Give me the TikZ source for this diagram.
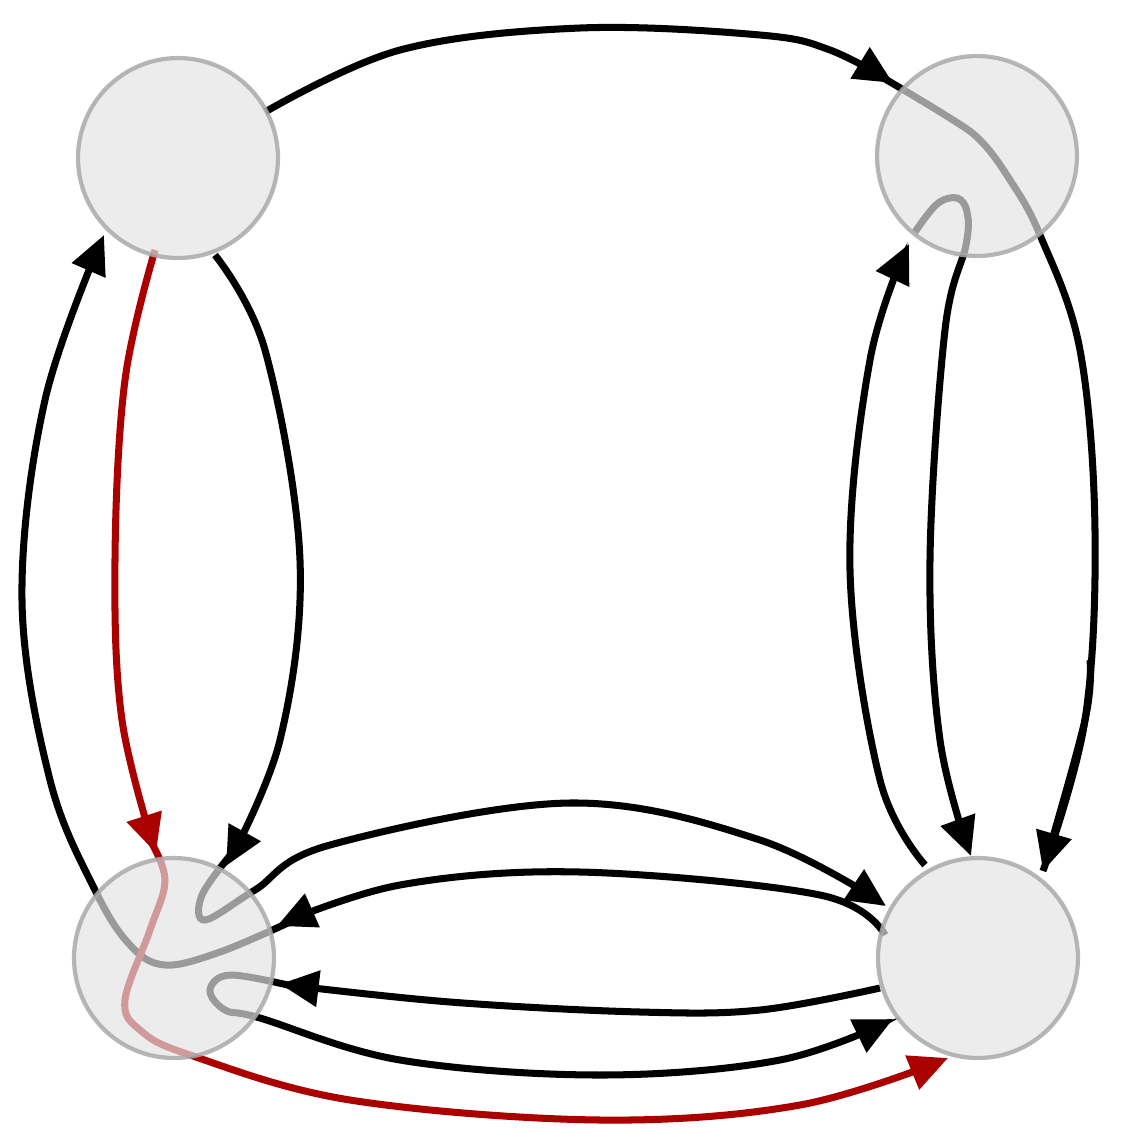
\documentclass[tikz,border=0pt]{standalone}
\usetikzlibrary{arrows.meta}
\definecolor{redE}{HTML}{AA0000}
\definecolor{nfill}{HTML}{E4E4E4}
\definecolor{nborder}{HTML}{AAAAAA}
\tikzset{
  edge/.style={line width=4pt, draw=black, -{Triangle[length=22pt,width=20pt]}},
  redge/.style={edge, draw=redE, -{Triangle[length=22pt,width=20pt,fill=redE]}, color=redE},
  cont/.style={line width=4pt, draw=black},
  rcont/.style={line width=4pt, draw=redE},
  vtx/.style={circle, minimum size=4cm, fill=nfill, fill opacity=0.68, draw=nborder, draw opacity=0.85, line width=2.4pt, inner sep=0pt}
}
\begin{document}
\begin{tikzpicture}[x=0.02cm,y=-0.02cm]
\useasboundingbox (0,0) rectangle (1134,1134);
\fill[white] (0,0) rectangle (1134,1134);
\coordinate (tl) at (178,158);
\coordinate (tr) at (977,156);
\coordinate (bl) at (174,958);
\coordinate (br) at (978,958);
% TL -> TR
\draw[edge] plot[smooth,tension=0.6] coordinates {(265,112) (400,50) (580,28) (760,35) (830,50) (893,83)};
\draw[cont] plot[smooth,tension=0.6] coordinates {(880,76) (945,115) (980,140) (1010,180) (1040,235) (1080,350) (1095,530) (1085,720) (1043,871)};
\draw[edge] plot[smooth,tension=0.6] coordinates {(1090,660) (1085,720) (1043,871)};
% BR -> TR
\draw[edge] plot[smooth,tension=0.6] coordinates {(925,865) (880,780) (850,570) (870,360) (909,244)};
\draw[edge] plot[smooth,tension=0.6] coordinates {(915,232) (937,204) (957,198) (967,212) (966,245) (945,330) (930,560) (940,740) (971,856)};
% TL -> BL
\draw[edge] plot[smooth,tension=0.6] coordinates {(215,255) (265,350) (300,560) (280,740) (226,866)};
\draw[edge] plot[smooth,tension=0.6] coordinates {(232,853) (202,895) (205,920) (255,890) (330,845) (570,803) (760,840) (886,906)};
% BR -> BL
\draw[edge] plot[smooth,tension=0.6] coordinates {(885,935) (820,895) (580,872) (400,885) (277,926)};
\draw[edge] plot[smooth,tension=0.6] coordinates {(290,922) (220,952) (165,965) (130,945) (95,890) (50,780) (22,600) (45,400) (104,235)};
% BR -> BL lower
\draw[edge] plot[smooth,tension=0.6] coordinates {(880,988) (760,1010) (640,1012) (450,1002) (280,984)};
\draw[edge] plot[smooth,tension=0.6] coordinates {(292,986) (230,975) (210,990) (225,1010) (260,1018) (400,1060) (600,1075) (780,1060) (893,1019)};
% red
\draw[redge] plot[smooth,tension=0.6] coordinates {(155,250) (125,380) (115,560) (122,720) (156,853)};
\draw[redge] plot[smooth,tension=0.6] coordinates {(150,840) (165,880) (150,930) (125,1000) (140,1030) (190,1055) (350,1100) (600,1120) (800,1105) (948,1058)};
% vertices
\node[vtx] (A) at (tl) {};
\node[vtx] (B) at (tr) {};
\node[vtx] (C) at (bl) {};
\node[vtx] (D) at (br) {};
\end{tikzpicture}
\end{document}
